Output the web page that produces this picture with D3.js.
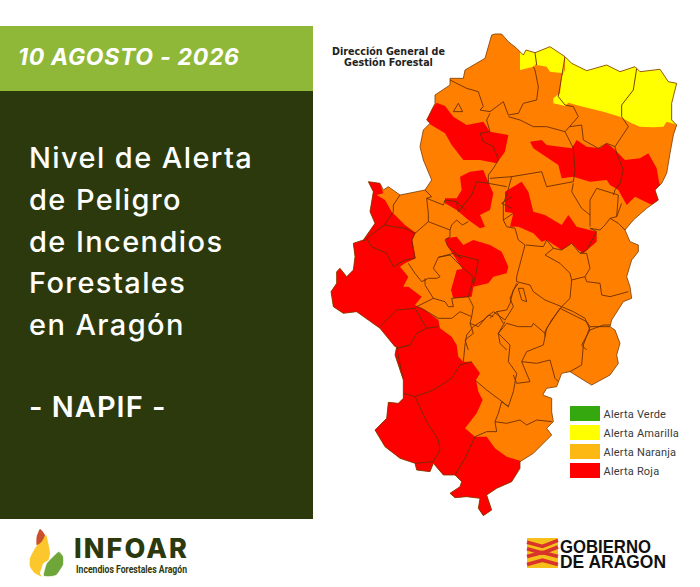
<!DOCTYPE html>
<html><head><meta charset="utf-8">
<script src="https://cdn.jsdelivr.net/npm/d3@7/dist/d3.min.js"></script>
<style>html,body{margin:0;padding:0;background:#fff}svg{display:block}</style>
</head><body><svg id="c" width="700" height="587"></svg>
<script>
// these helpers bring a sheet's readings into the shared map units.
const shift = (dx,dy) => pts => pts.map(([a,b]) => [a+dx, b+dy]);
const low = shift(0,735), west = shift(15,450), east = shift(510,450);

const outline = [[525,42],[545,42],[565,65],[590,85],[610,105],[618,90],[645,98],[690,80],[735,110],[755,130],[800,152],[860,135],[900,155],[945,140],[960,155],[1020,148],[1045,185],[1070,190],[1055,250],[1055,300],[1070,315],[1060,345],[1050,400],[1040,460],
 ...east([[515,40],[495,60],[505,90],[470,115],[430,150],[405,180],[420,215],[445,225],[445,245],[425,270],[410,320],[420,350],[425,385],[400,395],[365,450]]),
 ...low([[870,185],[885,195],[900,235],[890,270],[895,295],[870,330],[815,360],[790,345],[750,320],[725,325],[710,365],[680,370],[668,390],[695,400],[695,440],[700,470],[680,490],[695,510],[640,565],[600,590],[600,610],[575,650],[530,670],[500,690],[515,735],[490,752],[475,730],[480,700],[440,695],[405,698],[390,685],[420,665],[425,650],[405,630],[370,630],[340,595],[330,620],[290,615],[285,595],[240,580],[195,545],[165,495],[200,460],[205,412],[235,415],[250,400],[250,345],[225,270],[230,245]]),
 ...west([[210,530],[165,475],[130,450],[95,425],[55,430],[25,410],[18,365],[35,340],[35,305],[45,295],[65,320],[85,300],[90,260],[85,220],[115,210],[150,160],[135,125],[145,65],[130,35],[165,40],[175,60],[190,50],[225,75],[300,60],[320,30]]),
 [310,420],[300,380],[310,330],[330,310],[320,300],[345,250],[345,225],[390,195],[390,175],[430,175],[435,150],[495,115],[515,45]];

const yellowZones = [
 [[600,80],[645,80],[650,130],[640,140],[600,150]],
 [[645,70],[690,70],[735,100],[730,160],[690,155],[680,140],[650,135]],
 [[735,100],[1090,100],[1090,320],[1040,305],[1030,320],[1000,322],[960,320],[935,310],[900,290],[850,275],[780,258],[745,248],[735,258],[700,250],[700,235],[720,220],[725,170],[735,150]]
];
const redZones = [
 [[350,248],[375,258],[400,290],[440,315],[490,305],[510,335],[565,345],[555,395],[530,430],[480,420],[430,420],[395,375],[375,340],[325,310],[315,295]],
 [[630,365],[665,360],[680,375],[720,380],[755,385],[770,360],[800,380],[840,385],[860,370],[880,385],[895,400],[915,420],[960,415],[985,400],[1010,445],[1018,490],[1040,530],[1020,565],[985,550],[945,530],[920,555],[895,510],[870,495],[860,480],[810,485],[760,470],[725,475],[715,435],[670,405],[640,385]],
 west([[405,20],[435,5],[475,0],[485,25],[505,70],[495,120],[465,135],[480,170],[465,175],[430,150],[395,120],[360,100],[360,85],[395,85],[410,60]]),
 east([[95,35],[115,65],[130,125],[165,135],[215,165],[235,135],[260,170],[320,185],[320,215],[280,250],[265,240],[245,220],[215,240],[170,210],[155,215],[130,190],[85,170],[60,170],[70,130],[45,125],[45,65]]),
 west([[362,205],[395,200],[415,225],[445,210],[495,225],[530,245],[550,290],[545,310],[505,320],[490,340],[445,350],[440,380],[385,385],[378,360],[395,300],[412,296],[385,255],[365,225]]),
 [...west([[100,20],[165,40],[175,70],[155,75],[180,90],[200,125],[240,165],[272,188],[262,210],[272,265],[240,280],[225,290],[250,320],[235,350],[250,350],[290,380],[270,405],[300,420],[340,450]]),
  ...low([[360,190],[395,215],[410,240],[415,275],[430,290],[455,290],[480,325],[468,345],[475,380],[488,405],[470,445],[435,490],[465,515],[500,515],[525,550],[560,575],[610,590],[600,780],[0,780],[0,0]]),[60,700]]
];
const boundaries = [
 [[390,180],[440,205],[475,215],[490,260],[480,270],[510,275],[550,245],[565,285],[595,280],[610,250],[650,240],[655,200],[645,150],[640,140]],
 [[565,290],[600,300],[640,320],[680,320],[735,335],[775,290],[760,260],[735,255]],
 [[735,255],[715,230],[725,170],[735,110]],
 [[645,98],[650,135]],
 [[510,280],[500,300],[510,335],[480,340],[490,365],[520,380],[535,420],[520,445],[505,465],[505,490],[560,500]],
 [[735,335],[760,385],[765,450]],
 [[750,320],[785,315],[790,360],[835,385],[860,370],[885,380],[925,320],[905,290],[905,255],[940,210],[950,145]],
 [[885,380],[890,400],[910,450],[900,490],[885,510],[880,525]],
 [[400,275],[415,250],[428,275],[400,275]],
 // central band, east sheet
 east([[0,25],[65,20],[155,5],[170,50],[250,35],[255,0]]),
 east([[65,20],[50,75],[40,100],[40,150],[50,170],[75,175],[85,210],[105,225],[80,320]]),
 east([[65,80],[35,100],[65,115]]),
 east([[40,150],[70,130]]),
 east([[250,40],[245,65],[275,115],[300,135],[300,170]]),
 east([[300,135],[300,90],[320,55],[385,75],[380,140],[360,145],[345,165],[330,180],[300,175]]),
 east([[360,145],[385,160],[405,180]]),
 east([[380,140],[395,100]]),
 east([[300,175],[320,185],[290,240],[270,250],[245,220],[215,240],[190,235],[170,210],[160,230],[108,225]]),
 east([[190,235],[165,255],[210,280],[240,310],[245,330],[240,385],[215,410]]),
 east([[270,250],[290,250],[300,295],[285,320],[245,330]]),
 east([[285,320],[290,335],[330,340],[335,375],[360,380],[415,365]]),
 east([[80,320],[80,335],[120,345],[130,365],[165,390],[215,410],[250,425],[285,445],[300,480],[340,465],[365,465]]),
 east([[215,410],[185,450],[165,485],[165,500]]),
 east([[85,340],[70,360],[60,400],[50,420],[20,425],[40,460]]),
 east([[85,355],[95,390],[110,395],[100,355],[85,355]]),
 east([[300,480],[275,525],[290,540]]),
 east([[50,460],[85,470],[125,470],[130,460],[165,490]]),
 east([[50,460],[25,490],[30,520],[50,540]]),
 east([[0,445],[20,425]]),
 // central band, west sheet
 west([[225,75],[205,105],[205,125],[178,165],[125,205],[115,215]]),
 west([[178,165],[205,170],[240,175],[270,190],[260,210],[270,265],[240,270],[205,290],[185,250],[140,230],[125,205]]),
 west([[300,60],[320,80],[305,85],[310,130],[310,155],[270,190]]),
 west([[310,155],[375,180],[380,165],[395,150],[412,165],[430,155]]),
 west([[305,85],[355,105],[360,90],[395,95],[400,125],[440,75],[455,35],[490,40]]),
 west([[375,180],[375,200],[360,210],[370,230],[410,265],[385,250],[340,262],[325,295],[345,320],[335,325],[310,325],[290,335],[270,310],[250,280]]),
 west([[300,325],[300,345],[325,385]]),
 west([[340,262],[375,255],[415,295],[445,320],[440,345],[430,380],[380,385],[385,410],[370,410],[360,395],[325,385],[275,410]]),
 west([[430,380],[445,410],[440,440],[405,425],[380,445],[340,445],[290,415],[275,410]]),
 west([[440,440],[435,460],[460,470],[490,435],[505,440]]),
 west([[435,460],[445,490],[420,510],[430,540]]),
 west([[400,255],[460,270],[455,300],[445,345]]),
 west([[395,95],[420,120]]),
 // south
 low([[720,130],[800,170],[810,185],[870,185]]),
 low([[810,185],[790,240],[785,300],[750,320]]),
 low([[720,130],[680,190],[670,240],[620,260],[605,290],[650,295],[690,285],[705,340],[715,350]]),
 low([[555,170],[535,205],[570,240],[565,290],[590,325],[580,380],[565,425],[540,405],[500,375],[465,345]]),
 low([[590,55],[570,100],[580,125],[555,165],[520,140],[490,165],[460,185],[440,210],[435,240],[430,290]]),
 low([[605,290],[630,350],[590,355],[580,330]]),
 low([[565,425],[545,410],[535,445],[525,470],[560,475],[600,465],[620,480],[650,465],[695,470]]),
 low([[525,470],[530,500],[500,500],[465,515]]),
 low([[180,185],[230,135],[285,130],[320,190],[290,205],[270,240],[230,250]]),
 low([[270,240],[230,250],[250,345]]),
 low([[320,190],[355,185]]),
 low([[250,385],[285,395],[340,375],[395,340],[420,300],[455,290]]),
 low([[285,395],[320,470],[355,525],[360,555],[340,590],[285,595]]),
 low([[250,385],[205,412]]),
 low([[465,515],[435,580],[405,630]])
];
const legendLabels = ["Alerta Verde","Alerta Amarilla","Alerta Naranja","Alerta Roja"];
const legendColors = ["#35a80f","#ffff00","#fdb813","#ff0000"];
const headerText = "10 AGOSTO - 2026";
const titleLines = ["Nivel de Alerta","de Peligro","de Incendios","Forestales","en Aragón"];
const subtitle = "- NAPIF -";
const creditLines = ["Dirección General de","Gestión Forestal"];
const logoLines = ["GOBIERNO","DE ARAGON"];
// Logo shapes, in logo units
const flameBody = [[90,130],[105,100],[120,80],[138,60],[145,85],[150,115],[145,135],[130,145],[120,175],[125,185],[105,175],[90,155]];
const flameTip = [[120,42],[135,60],[125,80],[110,90],[110,65]];
const flameLeaf = [[130,182],[140,145],[175,110],[190,125],[190,150],[170,180],[150,185]];
const flagStripes = [[[0,0.14],[0.5,0.28],[1,0.08]],[[0,0.36],[0.5,0.5],[1,0.3]],[[0,0.62],[0.5,0.48],[1,0.62]],[[0,0.88],[0.5,0.74],[1,0.88]]];

const svg = d3.select("#c");
const x = d3.scaleLinear().domain([0,1110]).range([320,690]);
const y = d3.scaleLinear().domain([0,1500]).range([20,520]);
const line = d3.line().x(d=>x(d[0])).y(d=>y(d[1]));

svg.append("rect").attr("width",700).attr("height",587).attr("fill","#fff");
svg.append("rect").attr("x",0).attr("y",26).attr("width",313).attr("height",65).attr("fill","#8fb838");
svg.append("rect").attr("x",0).attr("y",91).attr("width",313).attr("height",428).attr("fill","#2c390c");
svg.append("text").attr("x",18).attr("y",65).text(headerText)
 .attr("font-family","Inter, 'Open Sans'").attr("font-weight",700).attr("font-style","italic").attr("font-size",23).attr("letter-spacing",0.7).attr("fill","#fff");
const titleY = d3.scalePoint().domain(d3.range(titleLines.length)).range([168,335]);
svg.append("g").selectAll("text").data(titleLines).join("text")
 .attr("x",29).attr("y",(d,i)=>titleY(i)).text(d=>d)
 .attr("font-family","Inter, 'Open Sans'").attr("font-weight",500).attr("font-size",29).attr("letter-spacing",1.4).attr("fill","#fff");
svg.append("text").attr("x",29).attr("y",417).text(subtitle)
 .attr("font-family","Inter, 'Open Sans'").attr("font-weight",600).attr("font-size",29).attr("letter-spacing",1).attr("fill","#fff");

const defs = svg.append("defs");
defs.append("clipPath").attr("id","clip").append("path").attr("d",line(outline)+"Z");
defs.append("filter").attr("id","soft").append("feGaussianBlur").attr("stdDeviation",0.35);
const map = svg.append("g").attr("filter","url(#soft)");
map.append("path").attr("d",line(outline)+"Z").attr("fill","#ff8000");
const zones = map.append("g").attr("clip-path","url(#clip)");
zones.selectAll(".y").data(yellowZones).join("path").attr("class","y").attr("d",d=>line(d)+"Z").attr("fill","#ffff00");
zones.selectAll(".r").data(redZones).join("path").attr("class","r").attr("d",d=>line(d)+"Z").attr("fill","#ff0000");
zones.selectAll(".b").data(boundaries).join("path").attr("class","b").attr("d",d=>line(d)).attr("fill","none")
 .attr("stroke","#6b2c05").attr("stroke-width",0.9).attr("stroke-linejoin","round");
map.append("path").attr("d",line(outline)+"Z").attr("fill","none").attr("stroke","#7a3a08").attr("stroke-width",0.8).attr("stroke-linejoin","round");

svg.append("g").selectAll("text").data(creditLines).join("text")
 .attr("x",388.5).attr("y",(d,i)=>55+i*11).attr("text-anchor","middle").text(d=>d)
 .attr("font-family","'DejaVu Sans'").attr("font-weight",700).attr("font-size",9.6).attr("fill","#222");

const ly = d3.scalePoint().domain(legendLabels).range([406,463]);
const leg = svg.append("g").selectAll("g").data(legendLabels).join("g").attr("transform",d=>`translate(570,${ly(d)})`);
leg.append("rect").attr("width",30).attr("height",15).attr("fill",(d,i)=>legendColors[i]);
leg.append("text").attr("x",33.5).attr("y",11.5).text(d=>d).attr("font-family","Roboto").attr("font-size",11).attr("letter-spacing",0.2).attr("fill","#3a3a3a");

// INFOAR logo
const lx = d3.scaleLinear().domain([0,630]).range([0,210]);
const lyy = d3.scaleLinear().domain([0,216]).range([515,587]);
const curve = d3.line().x(d=>lx(d[0])).y(d=>lyy(d[1])).curve(d3.curveCardinalClosed.tension(0.5));
svg.append("path").attr("d",curve(flameBody)).attr("fill","#fcc72c");
svg.append("path").attr("d",curve(flameTip)).attr("fill","#c9502a");
svg.append("path").attr("d",curve(flameLeaf)).attr("fill","#6fa63a").attr("stroke","#fff").attr("stroke-width",0.8);
svg.append("text").attr("x",74).attr("y",558).text("INFOAR").attr("font-family","Inter").attr("font-weight",800).attr("font-size",27).attr("fill","#2c390c")
 .attr("textLength",113).attr("lengthAdjust","spacing");
svg.append("text").attr("x",76).attr("y",573).text("Incendios Forestales Aragón").attr("font-family","'Roboto'").attr("font-weight",700).attr("font-size",10).attr("fill","#2c390c")
 .attr("textLength",111).attr("lengthAdjust","spacingAndGlyphs");

// Gobierno de Aragón logo
const fx = d3.scaleLinear().domain([0,1]).range([527,558]);
const fy = d3.scaleLinear().domain([0,1]).range([538,568]);
const flag = d3.line().x(d=>fx(d[0])).y(d=>fy(d[1]));
svg.append("rect").attr("x",fx(0)).attr("y",fy(0)).attr("width",fx(1)-fx(0)).attr("height",fy(1)-fy(0)).attr("fill","#f6c01a");
svg.selectAll(".st").data(flagStripes).join("path").attr("class","st").attr("d",d=>flag(d)).attr("fill","none").attr("stroke","#d9342b").attr("stroke-width",3.6);
svg.append("g").selectAll("text").data(logoLines).join("text")
 .attr("x",560).attr("y",(d,i)=>553+i*15).text(d=>d).attr("font-family","'Liberation Sans'").attr("font-weight",700).attr("font-size",17.5).attr("fill","#111")
 .attr("textLength",(d,i)=>i?106:91).attr("lengthAdjust","spacingAndGlyphs");
</script></body></html>
